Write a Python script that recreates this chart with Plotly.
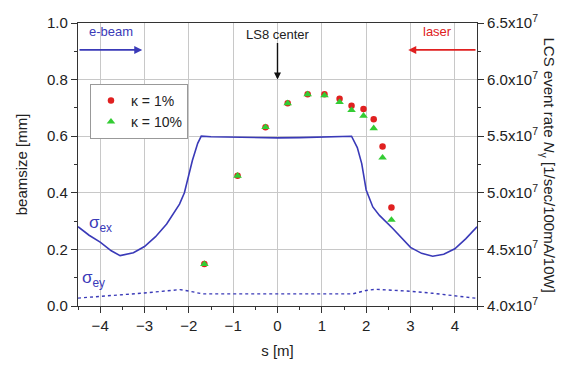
import plotly.graph_objects as go

# sigma_ex curve (left axis, mm)
s_ex = [-4.5, -4.25, -4.0, -3.75, -3.55, -3.25, -3.0, -2.75, -2.5, -2.21, -2.1, -2.0, -1.92, -1.8, -1.72,
        -1.5, -1.0, -0.5, 0.0, 0.5, 1.0, 1.5, 1.67, 1.8, 1.9, 2.0, 2.15, 2.3, 2.6, 3.0, 3.25, 3.5,
        3.75, 4.0, 4.25, 4.5]
sigma_ex = [0.28, 0.25, 0.226, 0.195, 0.178, 0.188, 0.21, 0.245, 0.29, 0.36, 0.40, 0.46, 0.514, 0.575, 0.6,
            0.598, 0.596, 0.595, 0.594, 0.595, 0.596, 0.598, 0.6, 0.56, 0.503, 0.41, 0.35, 0.32, 0.274,
            0.207, 0.186, 0.176, 0.183, 0.202, 0.238, 0.28]

# sigma_ey curve (left axis, mm)
s_ey = [-4.5, -4.0, -3.5, -3.0, -2.5, -2.2, -2.0, -1.8, -1.7, 0.0, 1.7, 1.8, 2.0, 2.2, 2.5, 3.0, 3.5, 4.0, 4.5]
sigma_ey = [0.028, 0.035, 0.04, 0.046, 0.052, 0.058, 0.053, 0.045, 0.043, 0.043, 0.043, 0.047, 0.055, 0.059,
            0.057, 0.052, 0.045, 0.036, 0.027]

# LCS event rate (right axis)
s_pts = [-1.65, -0.9, -0.27, 0.23, 0.68, 1.06, 1.40, 1.67, 1.94, 2.17, 2.37, 2.57]
rate_k1 = [4.37e7, 5.15e7, 5.58e7, 5.79e7, 5.87e7, 5.87e7, 5.83e7, 5.77e7, 5.74e7, 5.65e7, 5.41e7, 4.87e7]
rate_k10 = [4.37e7, 5.15e7, 5.58e7, 5.79e7, 5.87e7, 5.86e7, 5.80e7, 5.73e7, 5.68e7, 5.57e7, 5.31e7, 4.76e7]

x_ticks = [-4, -3, -2, -1, 0, 1, 2, 3, 4]
y_ticks = [0.0, 0.2, 0.4, 0.6, 0.8, 1.0]
y2_ticks = [4.0e7, 4.5e7, 5.0e7, 5.5e7, 6.0e7, 6.5e7]
y2_labels = ["4.0x10<sup>7</sup>", "4.5x10<sup>7</sup>", "5.0x10<sup>7</sup>",
             "5.5x10<sup>7</sup>", "6.0x10<sup>7</sup>", "6.5x10<sup>7</sup>"]

BLUE = "#3a3ab8"
RED = "#e02020"
GREEN = "#33cc33"
FONT = "Liberation Sans, Arial, sans-serif"

fig = go.Figure()
fig.add_trace(go.Scatter(x=s_ex, y=sigma_ex, mode="lines", line=dict(color=BLUE, width=1.6),
                         showlegend=False))
fig.add_trace(go.Scatter(x=s_ey, y=sigma_ey, mode="lines", line=dict(color=BLUE, width=1.4, dash="dot"),
                         showlegend=False))
fig.add_trace(go.Scatter(x=s_pts, y=rate_k1, mode="markers", yaxis="y2", name="κ = 1%",
                         marker=dict(color=RED, size=6.5, symbol="circle")))
fig.add_trace(go.Scatter(x=s_pts, y=rate_k10, mode="markers", yaxis="y2", name="κ = 10%",
                         marker=dict(color=GREEN, size=7.5, symbol="triangle-up")))

axis_common = dict(showline=True, linecolor="#333", linewidth=1.2, ticks="outside", ticklen=6,
                   tickcolor="#333", tickfont=dict(size=15, color="#222", family=FONT))

fig.update_layout(
    width=562, height=369,
    margin=dict(l=78, r=85, t=18, b=59),
    paper_bgcolor="white", plot_bgcolor="white",
    font=dict(family=FONT, color="#222"),
    xaxis=dict(range=[-4.5, 4.5], tickvals=x_ticks, showgrid=True, gridcolor="#c8c8c8", gridwidth=1,
               mirror=True, zeroline=False,
               minor=dict(dtick=0.5, ticklen=3, ticks="outside", tickcolor="#333", showgrid=False),
               title=dict(text="s [m]", font=dict(size=15, family=FONT), standoff=12),
               **axis_common),
    yaxis=dict(range=[0, 1.0], tickvals=y_ticks, tickformat=".1f", showgrid=True, gridcolor="#c8c8c8",
               gridwidth=1, zeroline=False,
               minor=dict(dtick=0.1, ticklen=3, ticks="outside", tickcolor="#333", showgrid=False),
               **axis_common),
    yaxis2=dict(range=[4.0e7, 6.5e7], overlaying="y", side="right", tickvals=y2_ticks, ticktext=y2_labels,
                showgrid=False, zeroline=False,
                minor=dict(dtick=0.25e7, ticklen=3, ticks="outside", tickcolor="#333", showgrid=False),
                **axis_common),
    legend=dict(x=0.03, y=0.785, xanchor="left", yanchor="top", bgcolor="white", bordercolor="#999",
                borderwidth=1, font=dict(size=14, family=FONT), tracegroupgap=0, itemwidth=30),
)

# left axis title
fig.add_annotation(xref="paper", yref="paper", x=-0.141, y=0.5, xanchor="center", yanchor="middle",
                   showarrow=False, textangle=-90, text="beamsize [mm]",
                   font=dict(size=15, family=FONT, color="#222"))
# right axis title (reads top to bottom)
fig.add_annotation(xref="paper", yref="paper", x=1.178, y=0.5, xanchor="center", yanchor="middle",
                   showarrow=False, textangle=90,
                   text="LCS event rate <i>N</i><sub>γ</sub> [1/sec/100mA/10W]",
                   font=dict(size=15, family=FONT, color="#222"))

# e-beam arrow
fig.add_annotation(xref="x", yref="y", x=-3.05, y=0.905, ax=-4.5, ay=0.905, axref="x", ayref="y",
                   showarrow=True, arrowhead=2, arrowsize=1, arrowwidth=1.6, arrowcolor=BLUE, text="")
fig.add_annotation(xref="x", yref="y", x=-3.75, y=0.97, text="e-beam", showarrow=False,
                   font=dict(size=13, color=BLUE, family=FONT))
# laser arrow
fig.add_annotation(xref="x", yref="y", x=2.95, y=0.905, ax=4.5, ay=0.905, axref="x", ayref="y",
                   showarrow=True, arrowhead=2, arrowsize=1, arrowwidth=1.6, arrowcolor=RED, text="")
fig.add_annotation(xref="x", yref="y", x=3.6, y=0.97, text="laser", showarrow=False,
                   font=dict(size=13, color=RED, family=FONT))
# LS8 center arrow
fig.add_annotation(xref="x", yref="y", x=0.0, y=0.8, ax=0.0, ay=0.935, axref="x", ayref="y",
                   showarrow=True, arrowhead=2, arrowsize=1, arrowwidth=1.4, arrowcolor="#111", text="")
fig.add_annotation(xref="x", yref="y", x=0.0, y=0.96, text="LS8 center", showarrow=False,
                   font=dict(size=13, color="#222", family=FONT))
# sigma labels
fig.add_annotation(xref="x", yref="y", x=-4.0, y=0.29, text="σ<sub>ex</sub>", showarrow=False,
                   font=dict(size=17, color=BLUE, family=FONT))
fig.add_annotation(xref="x", yref="y", x=-4.15, y=0.095, text="σ<sub>ey</sub>", showarrow=False,
                   font=dict(size=17, color=BLUE, family=FONT))

fig.write_html("out.html", config={"displayModeBar": False})

# remove the default page margin so the figure sits at the window's top-left corner
with open("out.html", "r", encoding="utf-8") as f:
    html = f.read()
html = html.replace("<head>", "<head><style>html,body{margin:0;padding:0;overflow:hidden;}</style>", 1)
with open("out.html", "w", encoding="utf-8") as f:
    f.write(html)
